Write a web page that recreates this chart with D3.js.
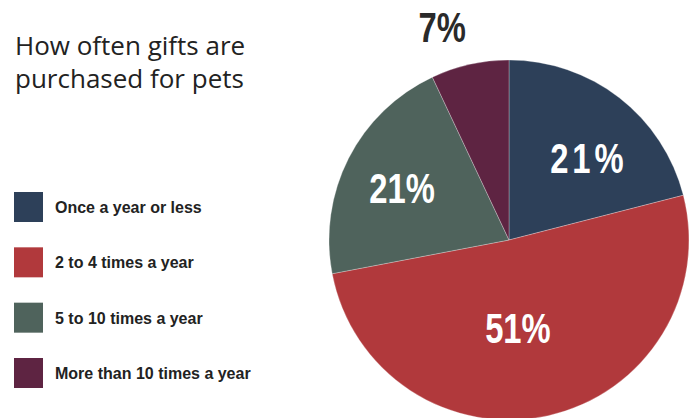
<!DOCTYPE html>
<html>
<head>
    <meta http-equiv="Content-Type" content="text/html;charset=utf-8">
    <script src="https://d3js.org/d3.v7.min.js"></script>
    <style>
        html, body {
            margin: 0;
            padding: 0;
            width: 691px;
            height: 418px;
            background: #fff;
            overflow: hidden;
        }

        svg {
            display: block;
        }

        .title text {
            font-family: "Open Sans", sans-serif;
            font-size: 26px;
            fill: #222;
        }

        .legend text {
            font-family: "Liberation Sans", Arial, sans-serif;
            font-weight: bold;
            font-size: 16px;
            fill: #222;
        }

        .labels text {
            font-family: "Liberation Sans", Arial, sans-serif;
            font-weight: bold;
            font-size: 42px;
            text-anchor: middle;
        }
    </style>
</head>
<body>
<div id="chart"></div>
<script>
    // data
    var categories = ["Once a year or less", "2 to 4 times a year", "5 to 10 times a year", "More than 10 times a year"];
    var values = [21, 51, 21, 7];
    var colors = ["#2d4059", "#b1393c", "#4f635c", "#5e2442"];
    var titleLines = ["How often gifts are", "purchased for pets"];

    // where each label sits: fraction of radius, angle shift from slice middle (deg)
    var labelPlacement = [
        {r: 0.63, shift: 5.6, fill: "#fff", spacing: 5},
        {r: 0.49, shift: 6.8, fill: "#fff", spacing: 0},
        {r: 0.66, shift: -1.2, fill: "#fff", spacing: 0},
        {r: 1.24, shift: -4.8, fill: "#2a2a2a", spacing: 0}
    ];

    function renderD3() {
        var width = 691,
            height = 418,
            cx = 509,
            cy = 240,
            radius = 180,
            squeeze = 0.78; // labels are a condensed face

        d3.select("#chart").select("svg").remove();

        var svg = d3.select("#chart").append("svg")
            .attr("width", width)
            .attr("height", height);

        // title
        svg.append("g")
            .attr("class", "title")
            .selectAll("text")
            .data(titleLines)
            .enter().append("text")
            .attr("x", 15)
            .attr("y", function (d, i) {
                return 55 + i * 33;
            })
            .text(function (d) {
                return d;
            });

        // legend
        var legendY = d3.scalePoint()
            .domain(categories)
            .range([207, 373]);

        var legend = svg.append("g")
            .attr("class", "legend")
            .selectAll("g")
            .data(categories)
            .enter().append("g")
            .attr("transform", function (d) {
                return "translate(14," + legendY(d) + ")";
            });

        legend.append("rect")
            .attr("x", 0)
            .attr("y", -15)
            .attr("width", 29)
            .attr("height", 30)
            .attr("fill", function (d, i) {
                return colors[i];
            });

        legend.append("text")
            .attr("x", 41)
            .attr("y", 6)
            .text(function (d) {
                return d;
            });

        // pie
        var pie = d3.pie()
            .sort(null)
            .value(function (d) {
                return d;
            });

        var arc = d3.arc()
            .innerRadius(0)
            .outerRadius(radius);

        var arcs = pie(values);

        var g = svg.append("g")
            .attr("transform", "translate(" + cx + "," + cy + ")");

        g.append("g")
            .attr("class", "slices")
            .selectAll("path")
            .data(arcs)
            .enter().append("path")
            .attr("d", arc)
            .attr("fill", function (d, i) {
                return colors[i];
            })
            .attr("stroke", "rgba(255,255,255,0.35)")
            .attr("stroke-width", 0.8);

        g.append("g")
            .attr("class", "labels")
            .selectAll("text")
            .data(arcs)
            .enter().append("text")
            .attr("transform", function (d, i) {
                var p = labelPlacement[i],
                    a = (d.startAngle + d.endAngle) / 2 + p.shift * Math.PI / 180,
                    r = radius * p.r;
                return "translate(" + (r * Math.sin(a)) + "," + (-r * Math.cos(a)) + ") scale(" + squeeze + ",1)";
            })
            .attr("dy", "0.36em")
            .attr("dx", function (d, i) {
                return labelPlacement[i].spacing / 2;
            })
            .attr("fill", function (d, i) {
                return labelPlacement[i].fill;
            })
            .style("letter-spacing", function (d, i) {
                return labelPlacement[i].spacing + "px";
            })
            .text(function (d) {
                return d.value + "%";
            });
    }

    renderD3();
</script>

</body>
</html>
